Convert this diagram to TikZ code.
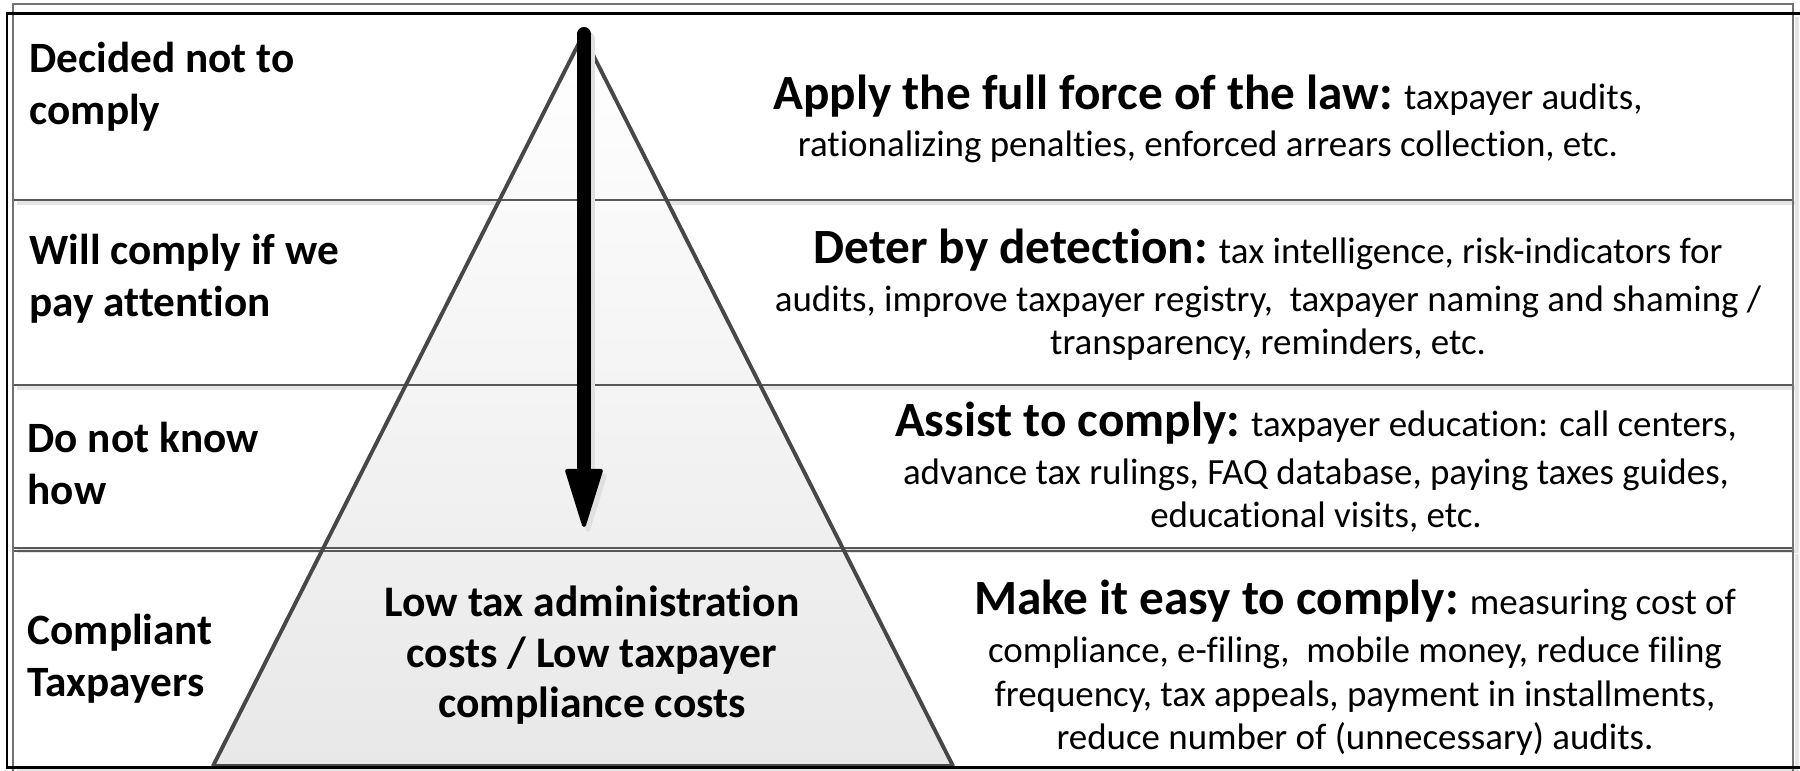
\documentclass[tikz,border=0pt]{standalone}
\usepackage{fontspec}
\setmainfont{Carlito}[Ligatures=NoCommon]
\usetikzlibrary{arrows.meta}
\newcommand{\lblfont}{\fontsize{12.3pt}{14.8pt}\selectfont\bfseries}
\newcommand{\midfont}{\fontsize{12.4pt}{14.4pt}\selectfont\bfseries}
\newcommand{\actfont}{\fontsize{10.5pt}{12.5pt}\selectfont}
\newcommand{\acthead}[1]{{\fontsize{14pt}{14pt}\selectfont\bfseries #1}}

\begin{document}
\begin{tikzpicture}[x=0.01cm,y=-0.01cm]
\tikzstyle{every node}+=[inner sep=0pt]
\tikzstyle{rowbox}=[draw=black!65,line width=0.6pt]
\tikzstyle{rowshade}=[draw=black!10,line width=1.2pt]
\tikzstyle{pyrline}=[draw=black!72,line width=1.1pt,line join=round]
\tikzstyle{flow}=[line width=0.14cm,line cap=round,-{Triangle[width=0.38cm,length=0.63cm,line width=0.04cm,round]}]
\tikzstyle{lbltext}=[anchor=base west,align=left,font=\lblfont]
\tikzstyle{midtext}=[anchor=base,align=center,font=\midfont]
\tikzstyle{acttext}=[anchor=base,align=center,font=\actfont]
\useasboundingbox (0,0) rectangle (1800,771);
\fill[white] (0,0) rectangle (1800,771);
\coordinate (apex) at (583,35);
\coordinate (bl) at (213,766);
\coordinate (br) at (953,766);
\coordinate (arrtop) at (584,34);
\coordinate (arrtip) at (584,527);
\foreach \t/\b in {14/200,200/385,385/548,551/768}
  \draw[rowshade] (17,\b+3) -- (1797,\b+3) -- (1797,\t+3);
\shade[top color=white,bottom color=black!9] (apex) -- (bl) -- (br) -- cycle;
\foreach \t/\b in {14/200,200/385,385/548,551/768}
  \draw[rowbox] (13,\t) rectangle (1793,\b);
\draw[pyrline] (apex) -- (bl) -- (br) -- cycle;
\draw[flow,black!12] ([shift={(4,5)}]arrtop) -- ([shift={(4,5)}]arrtip);
\draw[flow,black] (arrtop) -- (arrtip);
\draw[black!55,line width=0.6pt] (13,771) -- (13,4) -- (1793,4) -- (1793,771);
\draw[black,line width=0.85pt] (7,14) rectangle (1805,768);
\node[lbltext] (lbl1) at (29,125) {Decided not to\\comply};
\node[lbltext] (lbl2) at (29,317) {Will comply if we\\pay attention};
\node[lbltext] (lbl3) at (27,505) {Do not know\\how};
\node[lbltext] (lbl4) at (27,697) {Compliant\\Taxpayers};
\node[midtext] (low) at (592,718) {Low tax administration\\costs / Low taxpayer\\compliance costs};
\node[acttext] (act1) at (1208,157) {\acthead{Apply the full force of the law:} taxpayer audits,\\[1pt]rationalizing penalties, enforced arrears collection, etc.};
\node[acttext] (act2) at (1268,355) {\acthead{Deter by detection:} tax intelligence, risk-indicators for\\[1pt]audits, improve taxpayer registry,\ \ taxpayer naming and shaming /\\transparency, reminders, etc.};
\node[acttext] (act3) at (1316,528) {\acthead{Assist to comply:} taxpayer education: call centers,\\[1pt]advance tax rulings, FAQ database, paying taxes guides,\\educational visits, etc.};
\node[acttext] (act4) at (1355,750) {\acthead{Make it easy to comply:} measuring cost of\\[1pt]compliance, e-filing,\ \ mobile money, reduce filing\\frequency, tax appeals, payment in installments,\\reduce number of (unnecessary) audits.};
\end{tikzpicture}
\end{document}
